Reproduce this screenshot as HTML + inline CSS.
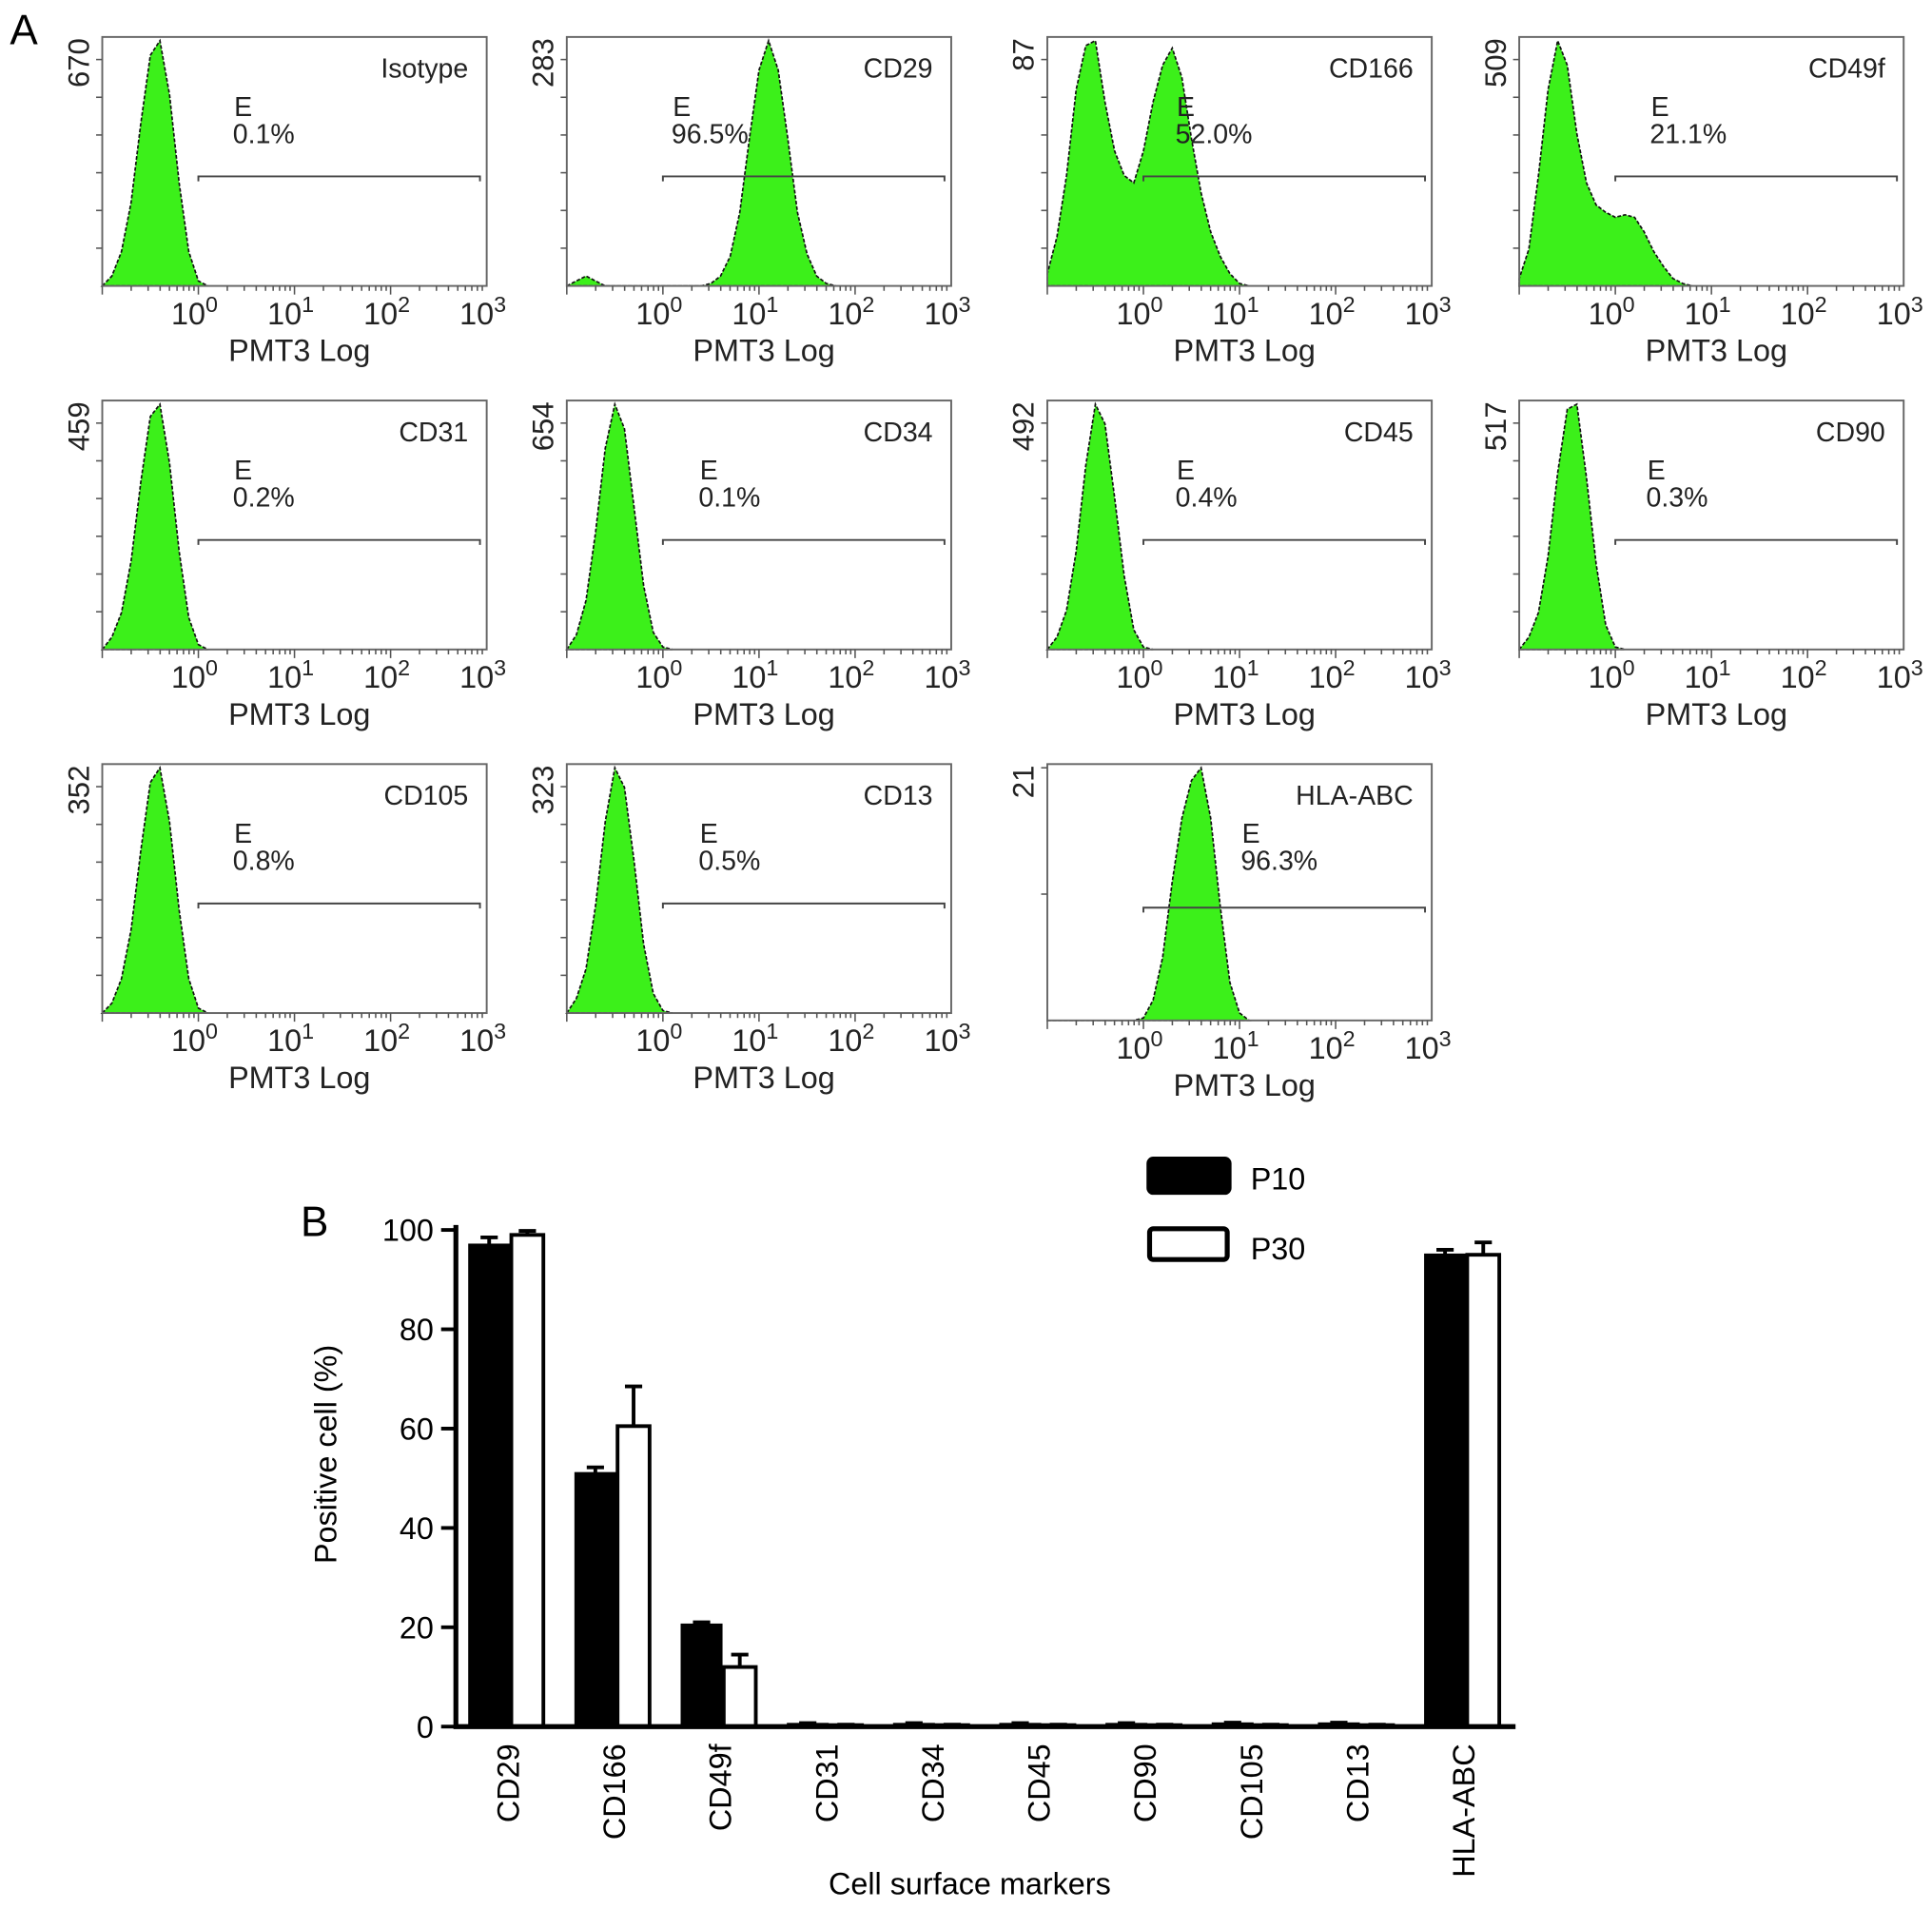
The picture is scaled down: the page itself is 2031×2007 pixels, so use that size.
<!DOCTYPE html>
<html><head><meta charset="utf-8">
<style>
html,body{margin:0;padding:0;background:#fff;}
svg{display:block;font-family:"Liberation Sans",Arial,sans-serif;}
</style></head>
<body>
<svg id="fig" width="2031" height="2007" viewBox="0 0 1568 1549" preserveAspectRatio="none" xmlns="http://www.w3.org/2000/svg">
<rect width="1568" height="1549" fill="#fff"/>
<text x="8" y="36" font-size="34">A</text>
<text x="244" y="1003" font-size="34">B</text>
<g id="hists"></g>
<g id="barchart"></g>
</svg>
<script>
// ---------- Panel A histogram data (counts in % of max, log10 bins from -1.0 step 0.1) ----------
const histLogStart = -1.0;
const histLogStep = 0.1;
const isotypeCounts = [0,4,14,34,66,94,100,78,42,14,2,0];
const cd29Counts = [0,2,4,2,0,0,0,0,0,0,0,0,0,0,0,1,4,12,30,60,88,100,88,60,30,13,4,1,0];
const cd166Counts = [5,20,45,80,98,100,75,55,45,42,55,75,90,97,85,60,38,22,12,5,1,0];
const cd49fCounts = [3,15,45,80,100,90,62,42,33,30,28,29,28,22,14,8,3,1,0];
const cd31Counts = [0,5,15,36,68,95,100,76,40,13,2,0];
const cd34Counts = [0,6,20,48,82,100,90,58,26,7,1,0];
const cd45Counts = [0,5,16,40,75,100,92,62,30,8,1,0];
const cd90Counts = [0,5,15,38,72,98,100,70,35,10,1,0];
const cd105Counts = [0,4,14,34,66,94,100,78,42,14,2,0];
const cd13Counts = [0,6,18,44,78,100,92,62,28,8,1,0];
const hlaCounts = [0,0,0,0,0,0,0,0,0,0,1,8,25,55,80,95,100,80,45,15,3,0];
const histNames = ["Isotype","CD29","CD166","CD49f","CD31","CD34","CD45","CD90","CD105","CD13","HLA-ABC"];
const histMax = ["670","283","87","509","459","654","492","517","352","323","21"];
const histPct = ["0.1%","96.5%","52.0%","21.1%","0.2%","0.1%","0.4%","0.3%","0.8%","0.5%","96.3%"];
const histSeries = [isotypeCounts,cd29Counts,cd166Counts,cd49fCounts,cd31Counts,cd34Counts,cd45Counts,cd90Counts,cd105Counts,cd13Counts,hlaCounts];
const decadeLabels = ["0","1","2","3"];

// ---------- Panel B data ----------
const markers = ["CD29","CD166","CD49f","CD31","CD34","CD45","CD90","CD105","CD13","HLA-ABC"];
const p10Values = [97,51,20.5,0.5,0.5,0.5,0.5,0.6,0.6,95];
const p10Err = [1.5,1.2,0.5,0.2,0.2,0.2,0.2,0.2,0.2,1];
const p30Values = [99,60.5,12,0.3,0.3,0.3,0.3,0.3,0.3,95];
const p30Err = [0.8,8,2.5,0.1,0.1,0.1,0.1,0.1,0.1,2.5];
const yTicks = [0,20,40,60,80,100];

const NS = "http://www.w3.org/2000/svg";
function mk(tag, attrs, parent, text){
  const e = document.createElementNS(NS, tag);
  for (const k in attrs) e.setAttribute(k, attrs[k]);
  if (text !== undefined) e.textContent = text;
  parent.appendChild(e);
  return e;
}

// ---------- Draw histograms ----------
const hg = document.getElementById('hists');
const colX = [83,460,850,1233];
const rowY = [30,325,620];
const boxW = 312, boxH = 202;
const labelOff = [107,86,105,107,107,108,105,104,107,108,158];
for (let i = 0; i < histNames.length; i++) {
  const col = i < 4 ? i : (i < 8 ? i - 4 : i - 8);
  const row = i < 4 ? 0 : (i < 8 ? 1 : 2);
  const L = colX[col], T = rowY[row];
  const H = (i === 10) ? 208 : boxH;
  const B = T + H;
  const xs = v => L + (v - (-1)) / 4 * boxW;
  const ys = c => B - c / 100 * (H - 3);
  const g = mk('g', {}, hg);
  
  
  const data = histSeries[i];
  let d = 'M' + xs(histLogStart) + ',' + B;
  for (let k = 0; k < data.length; k++) {
    const lv = histLogStart + k * histLogStep;
    d += ' L' + xs(lv).toFixed(1) + ',' + ys(data[k]).toFixed(1);
  }
  d += ' L' + xs(histLogStart + (data.length - 1) * histLogStep).toFixed(1) + ',' + B + ' Z';
  const area = mk('path', {d: d, fill: '#3cf01a', stroke: '#111', 'stroke-width': 1.3, 'stroke-dasharray': '3,1.5'}, g);
  
  
  const box = mk('rect', {x: L, y: T, width: boxW, height: H, fill: 'none', stroke: '#666', 'stroke-width': 1.5}, g);
  
  
  for (let t = 1; t <= 6; t++) {
    const yy = B - t * (H - 3) / ((i === 10) ? 2 : 6.5);
    if (yy < T) break;
    mk('line', {x1: L - 5, y1: yy, x2: L, y2: yy, stroke: '#555', 'stroke-width': 1.2}, g);
  }
  for (let dec = -1; dec < 3; dec++) {
    for (let m = 1; m <= 9; m++) {
      const lv = dec + Math.log10(m);
      const xx = xs(lv);
      mk('line', {x1: xx, y1: B, x2: xx, y2: B + (m === 1 ? 7 : 4), stroke: '#555', 'stroke-width': 1.2}, g);
    }
  }
  for (let k = 0; k < decadeLabels.length; k++) {
    const xx = xs(k);
    const t = mk('text', {x: xx - 22, y: B + 31, 'font-size': 25, fill: '#222'}, g, '10');
    
    
    mk('tspan', {dy: -10, 'font-size': 18}, t, decadeLabels[k]);
  }
  const xt = mk('text', {x: L + 160, y: B + 61, 'font-size': 25, 'text-anchor': 'middle', fill: '#222'}, g, 'PMT3 Log');
  
  
  const ym = mk('text', {x: 0, y: 0, 'font-size': 24, 'text-anchor': 'end', fill: '#222', transform: 'translate(' + (L - 11) + ',' + (T + 1) + ') rotate(-90)'}, g, histMax[i]);
  
  
  const nm = mk('text', {x: L + boxW - 15, y: T + 33, 'font-size': 22, 'text-anchor': 'end', fill: '#222'}, g, histNames[i]);
  
  
  const gy = T + H * 0.56;
  const gx1 = xs(0), gx2 = xs(2.93);
  const gate = mk('path', {d: 'M' + gx1 + ',' + (gy + 4) + ' V' + gy + ' H' + gx2 + ' V' + (gy + 4), fill: 'none', stroke: '#444', 'stroke-width': 1.5}, g);
  
  
  const ex = L + labelOff[i];
  const el = mk('text', {x: ex, y: T + 64, 'font-size': 22, fill: '#222'}, g, 'E');
  
  
  const pl = mk('text', {x: ex - 1, y: T + 86, 'font-size': 22, fill: '#222'}, g, histPct[i]);
  
  
}

// ---------- Draw bar chart ----------
const bg = document.getElementById('barchart');
const axL = 370, axR = 1230, y0 = 1401, y100 = 998;
const yS = v => y0 - v / 100 * (y0 - y100);
const groupX = k => 381 + k * 86.2;
const bw = 30;
for (let k = 0; k < yTicks.length; k++) {
  const yy = yS(yTicks[k]);
  mk('line', {x1: axL - 12, y1: yy, x2: axL, y2: yy, stroke: '#000', 'stroke-width': 3}, bg);
  const t = mk('text', {x: axL - 18, y: yy + 9, 'font-size': 25, 'text-anchor': 'end'}, bg, String(yTicks[k]));
  
  
}
for (let k = 0; k < markers.length; k++) {
  const gx = groupX(k);
  const b1 = mk('rect', {x: gx, y: yS(p10Values[k]), width: bw + 2, height: y0 - yS(p10Values[k]), fill: '#000', stroke: '#000', 'stroke-width': 2}, bg);
  
  
  const e1 = yS(p10Values[k] + p10Err[k]);
  mk('path', {d: 'M' + (gx + 16) + ',' + yS(p10Values[k]) + ' V' + e1 + ' M' + (gx + 9) + ',' + e1 + ' H' + (gx + 23), stroke: '#000', 'stroke-width': 3, fill: 'none'}, bg);
  const x2 = gx + bw + 4;
  const b2 = mk('rect', {x: x2, y: yS(p30Values[k]), width: bw - 4, height: y0 - yS(p30Values[k]), fill: '#fff', stroke: '#000', 'stroke-width': 3}, bg);
  
  
  const e2 = yS(p30Values[k] + p30Err[k]);
  mk('path', {d: 'M' + (x2 + 13) + ',' + yS(p30Values[k]) + ' V' + e2 + ' M' + (x2 + 6) + ',' + e2 + ' H' + (x2 + 20), stroke: '#000', 'stroke-width': 3, fill: 'none'}, bg);
  const lbl = mk('text', {x: 0, y: 0, 'font-size': 25, 'text-anchor': 'end', transform: 'translate(' + (gx + 40) + ',1415) rotate(-90)'}, bg, markers[k]);
  
  
}
const ax = mk('path', {d: 'M' + axL + ',' + (y100 - 4) + ' V' + y0 + ' H' + axR, stroke: '#000', 'stroke-width': 4, fill: 'none'}, bg);


const yt = mk('text', {x: 0, y: 0, 'font-size': 25, 'text-anchor': 'middle', transform: 'translate(273,1180) rotate(-90)'}, bg, 'Positive cell (%)');


const xt2 = mk('text', {x: 787, y: 1537, 'font-size': 25, 'text-anchor': 'middle'}, bg, 'Cell surface markers');


const lg = mk('g', {}, bg);


const l1 = mk('rect', {x: 932, y: 940, width: 66, height: 28, rx: 4, fill: '#000', stroke: '#000', 'stroke-width': 3}, lg);


const lt1 = mk('text', {x: 1015, y: 965, 'font-size': 25}, lg, 'P10');


const l2 = mk('rect', {x: 933, y: 997, width: 63, height: 25, rx: 3, fill: '#fff', stroke: '#000', 'stroke-width': 4}, lg);


const lt2 = mk('text', {x: 1015, y: 1022, 'font-size': 25}, lg, 'P30');


</script>
</body></html>
